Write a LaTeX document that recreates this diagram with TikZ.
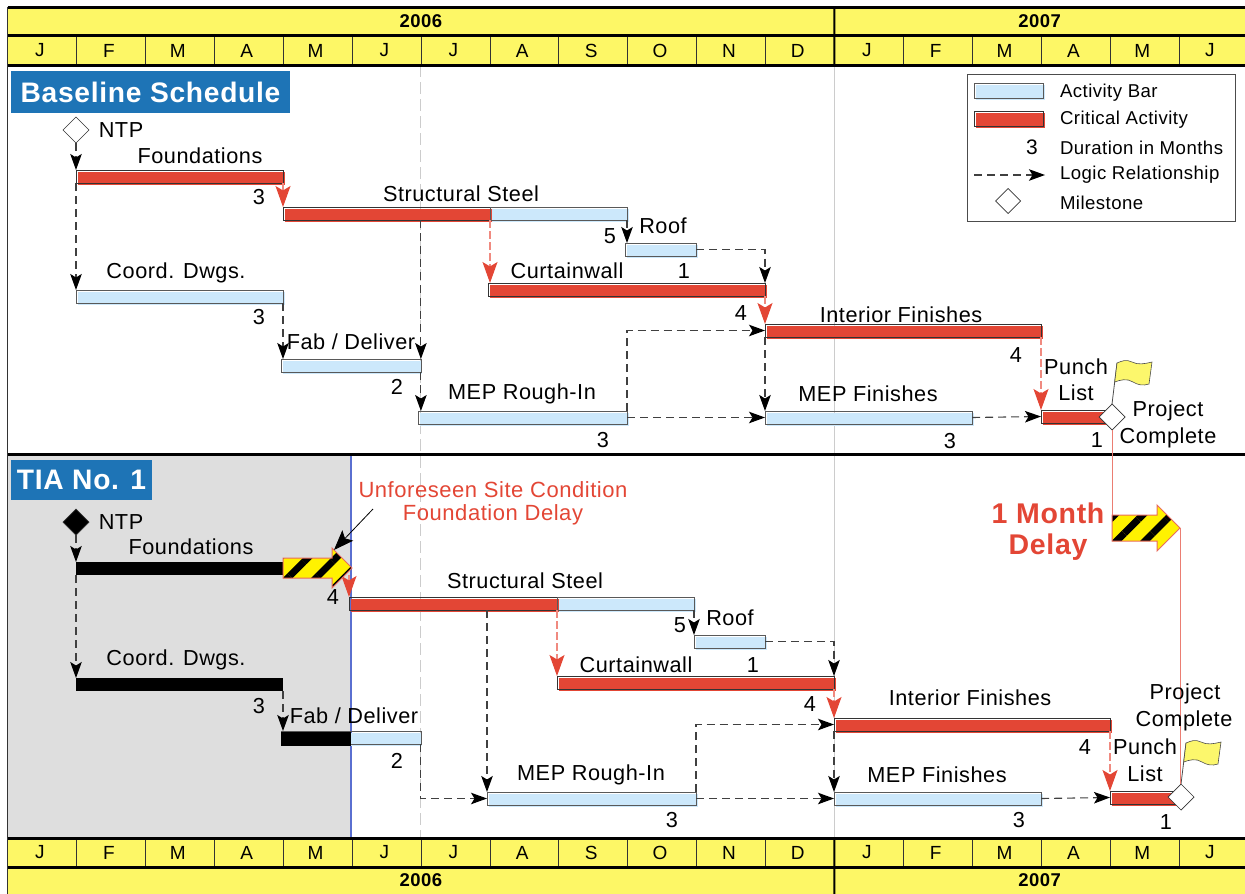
\documentclass[tikz,border=0pt]{standalone}
\usepackage{fontspec}
\setmainfont{Liberation Sans}[LetterSpace=2.5]
\usetikzlibrary{arrows.meta,positioning,shapes.geometric,shapes.arrows,shadows,patterns.meta}
\definecolor{hdryel}{HTML}{FDF766}
\definecolor{barblue}{HTML}{CCE8FB}
\definecolor{critred}{HTML}{E34635}
\definecolor{critpink}{HTML}{F08A80}
\definecolor{ttlblue}{HTML}{1E74B6}
\definecolor{tiagray}{HTML}{DEDEDE}
\definecolor{flagyel}{HTML}{FCF76C}
\definecolor{tialine}{HTML}{5A6FD0}

\begin{document}
\begin{tikzpicture}[x=1pt, y=-1pt, node distance=0pt, every node/.style={font=\fontsize{21.7}{24}\selectfont, inner sep=0pt, outer sep=0pt},
			yr/.style={fill=hdryel, minimum height=28pt, font=\fontsize{18.5}{21}\selectfont\bfseries},
			mon/.style={fill=hdryel, draw=black!80, line width=.6pt, minimum width=68.9pt, minimum height=29pt, font=\fontsize{19}{21}\selectfont, execute at begin node=\hspace*{-4pt}},
			heavy/.style={line width=3pt},
			bar/.style={minimum height=13pt, anchor=north west},
			off/.style={general shadow={fill=#1, shadow xshift=1.5pt, shadow yshift=-1.5pt}},
			actbar/.style={bar, draw=black!65, line width=.7pt, off=barblue},
			critbar/.style={bar, draw=black!80, line width=.7pt, off=critred},
			blkbar/.style={bar, fill=black},
			dep/.style={draw=black!75, line width=1.1pt, dash pattern=on 8pt off 5pt, -{Stealth[length=16pt, width=11.5pt, inset=3.5pt, color=black]}},
			crit/.style={draw=critpink, line width=1.1pt, dash pattern=on 8pt off 3pt, -{Stealth[length=21pt, width=15pt, inset=4.5pt, color=critred]}},
			ms/.style={diamond, draw=black!80, line width=.7pt, fill=white, minimum width=26pt, minimum height=26pt},
			ttl/.style={fill=ttlblue, text=white, font=\fontsize{28.2}{30}\selectfont\bfseries, anchor=north west},
			leg/.style={anchor=west, font=\fontsize{18.6}{21}\selectfont},
			redtxt/.style={text=critred, font=\fontsize{22}{24}\selectfont},
			bigred/.style={text=critred, font=\fontsize{28.5}{31}\selectfont\bfseries},
			hazard/.style={single arrow, single arrow head extend=10pt, minimum height=68pt, minimum width=39pt, inner ysep=9.5pt, anchor=tail,
				draw=critred!80, line width=1pt, preaction={fill=yellow}, pattern={Lines[angle=45, distance=20pt, line width=7pt]}, pattern color=black},
			flagpic/.pic={
				\draw[black!70, line width=.8pt] (0,0) -- (5,-41);
				\draw[black!70, fill=flagyel, line width=.6pt] (5,-41) .. controls (10,-43) and (14,-45) .. (20,-42) .. controls (26,-39) and (32,-40) .. (40,-42)
					-- (37,-20) .. controls (31,-18) and (26,-19) .. (21,-22) .. controls (15,-26) and (8,-24) .. (2.7,-22) -- cycle;
			}]
			\useasboundingbox (0,0) rectangle (1245,894);

			\node[fill=tiagray, minimum width=343pt, minimum height=383pt, anchor=north west] (tia) at (8,454) {};

			\node[yr, minimum width=826.8pt, anchor=north west] (y1) at (7.5,7) {2006};
			\node[yr, minimum width=410.7pt, right=of y1] (y2) {2007};
			\node[mon, anchor=north west] (m1) at (7.5,36) {J};
			\node[mon, right=of m1] (m2) {F};
			\node[mon, right=of m2] (m3) {M};
			\node[mon, right=of m3] (m4) {A};
			\node[mon, right=of m4] (m5) {M};
			\node[mon, right=of m5] (m6) {J};
			\node[mon, right=of m6] (m7) {J};
			\node[mon, right=of m7] (m8) {A};
			\node[mon, right=of m8] (m9) {S};
			\node[mon, right=of m9] (m10) {O};
			\node[mon, right=of m10] (m11) {N};
			\node[mon, right=of m11] (m12) {D};
			\node[mon, right=of m12] (m13) {J};
			\node[mon, right=of m13] (m14) {F};
			\node[mon, right=of m14] (m15) {M};
			\node[mon, right=of m15] (m16) {A};
			\node[mon, right=of m16] (m17) {M};
			\node[mon, right=of m17, minimum width=66.2pt] (m18) {J};

			\node[mon, anchor=north west] (b1) at (7.5,838) {J};
			\node[mon, right=of b1] (b2) {F};
			\node[mon, right=of b2] (b3) {M};
			\node[mon, right=of b3] (b4) {A};
			\node[mon, right=of b4] (b5) {M};
			\node[mon, right=of b5] (b6) {J};
			\node[mon, right=of b6] (b7) {J};
			\node[mon, right=of b7] (b8) {A};
			\node[mon, right=of b8] (b9) {S};
			\node[mon, right=of b9] (b10) {O};
			\node[mon, right=of b10] (b11) {N};
			\node[mon, right=of b11] (b12) {D};
			\node[mon, right=of b12] (b13) {J};
			\node[mon, right=of b13] (b14) {F};
			\node[mon, right=of b14] (b15) {M};
			\node[mon, right=of b15] (b16) {A};
			\node[mon, right=of b16] (b17) {M};
			\node[mon, right=of b17, minimum width=66.2pt] (b18) {J};
			\node[yr, minimum width=826.8pt, minimum height=27pt, anchor=north west] (z1) at (7.5,867) {2006};
			\node[yr, minimum width=410.7pt, minimum height=27pt, right=of z1] (z2) {2007};

			\draw[black!20, line width=1pt, dash pattern=on 12pt off 5pt] (m7.south west) -- (b7.north west);
			\draw[black!20, line width=1pt] (m13.south west) -- (b13.north west);
			\draw[tialine, line width=1.2pt] (tia.north east) -- (tia.south east);
			\draw[black!80, line width=.8pt] (y1.north west) -- (z1.south west);
			\draw[heavy] (y1.north west) -- (y2.north east);
			\draw[heavy] (y1.south west) -- (y2.south east);
			\draw[heavy] (m1.south west) -- (m18.south east);
			\draw[heavy] (tia.north west) -- (tia.north west -| y2.east);
			\draw[heavy] (b1.north west) -- (b18.north east);
			\draw[heavy] (b1.south west) -- (b18.south east);
			\draw[line width=2pt] (y1.north east) -- (m13.south west);
			\draw[line width=2pt] (b13.north west) -- (z1.south east);

			\node[ttl, minimum width=279pt, minimum height=42pt] (t1) at (11,71) {Baseline Schedule};
			\node[ttl, minimum width=141pt, minimum height=40pt] (t2) at (11,460) {TIA No. 1};

			\node[draw=black!70, line width=.8pt, minimum width=268pt, minimum height=147pt, anchor=north west] (lg) at (967,74) {};
			\node[actbar, minimum width=69pt, minimum height=15pt] (lg1) at (974,83) {};
			\node[critbar, minimum width=69pt, minimum height=15pt] (lg2) at (974,111) {};
			\node[leg] (lt1) at (1060,92.5) {Activity Bar};
			\node[leg] (lt2) at (1060,119.5) {Critical Activity};
			\node[leg] (lt3) at (1060,147.5) {Duration in Months};
			\node[leg] (lt4) at (1060,174.5) {Logic Relationship};
			\node[leg] (lt5) at (1060,203) {Milestone};
			\node[leg, anchor=center, font=\fontsize{21}{23}\selectfont] (lg3) at (1032,147) {3};
			\coordinate (lg4a) at (974,175);
			\coordinate (lg4b) at (1045,175);
			\draw[dep] (lg4a) -- (lg4b);
			\node[ms, minimum width=25pt, minimum height=25pt] (lg5) at (1008,201) {};

			\node[critbar, minimum width=207pt] (found) at (76,170) {};
			\node[critbar, minimum width=207pt] (steelc) at (283,207) {};
			\node[actbar, minimum width=137pt] (steelb) at (490,207) {};
			\node[actbar, minimum width=71pt] (roof) at (625,243) {};
			\node[critbar, minimum width=277pt] (curt) at (488,283) {};
			\node[critbar, minimum width=276pt] (inter) at (765,324) {};
			\node[actbar, minimum width=207pt] (coord) at (76,290) {};
			\node[actbar, minimum width=139.9pt] (fab) at (281,359) {};
			\node[actbar, minimum width=209pt] (mep) at (418,411) {};
			\node[actbar, minimum width=207pt] (mepf) at (765,411) {};
			\node[critbar, minimum width=69pt] (punch) at (1041,410) {};
			\node[ms] (ntp) at (76,130) {};
			\node[ms] (done) at (1112,417) {};

			\draw[dep] (ntp.south) -- (ntp.south |- found.north);
			\draw[dep] (found.south west) -- (coord.north west);
			\draw[dep] (coord.south east) -- (coord.south east |- fab.north);
			\draw[dep] (m7.south west |- steelc.south) -- (m7.south west |- fab.north);
			\draw[dep] (fab.south east) -- (fab.south east |- mep.north);
			\draw[dep] (steelb.south east) -- (steelb.south east |- roof.north);
			\draw[dep] (roof.east) -| (curt.north east);
			\draw[dep] (inter.south west) -- (mepf.north west);
			\draw[dep] (mep.north east) |- (inter.west);
			\draw[dep] (mep.east) -- (mepf.west);
			\draw[dep] (mepf.east) -- (punch.west);
			\draw[crit] (found.south east) -- (found.south east |- steelc.north);
			\draw[crit] (steelc.south east) -- (steelc.south east |- curt.north);
			\draw[crit] (curt.south east) -- (curt.south east |- inter.north);
			\draw[crit] (inter.south east) -- (punch.north west);
			\path (done.north) pic {flagpic};

			\node[fill=white, anchor=south, text depth=7pt] (l1) at (200,170) {Foundations};
			\node (l2) at (461,194) {Structural Steel};
			\node (l3) at (663,226) {Roof};
			\node (l4) at (567,271) {Curtainwall};
			\node (l5) at (901,315) {Interior Finishes};
			\node (l6) at (176,273) {Coord. Dwgs.};
			\node (l7) at (351,342) {Fab / Deliver};
			\node (l8) at (522,394) {MEP Rough-In};
			\node (l9) at (868,394) {MEP Finishes};
			\node (l10) at (1076,367) {Punch};
			\node (l11) at (1076,393) {List};
			\node (l12) at (121,130) {NTP};
			\node (l13) at (1168,411) {Project};
			\node (l14) at (1168,438) {Complete};
			\node (n1) at (259,197) {3};
			\node (n2) at (610,236) {5};
			\node (n3) at (684,271) {1};
			\node (n4) at (741,313) {4};
			\node (n5) at (1016,355) {4};
			\node (n6) at (259,317) {3};
			\node (n7) at (397,387) {2};
			\node (n8) at (603,440) {3};
			\node (n9) at (950,441) {3};
			\node (n10) at (1097,440) {1};

			\draw[critred!70, line width=1pt] (done.south) -- (done.south |- 0,528);
			\node[hazard] (haz1) at (1112,528) {};
			\node[bigred] (d1) at (1048,513) {1 Month};
			\node[bigred] (d2) at (1048,547) {Delay};

			\node[blkbar, minimum width=207pt] (foundb) at (76,562) {};
			\node[critbar, minimum width=208pt] (steelcb) at (349,597) {};
			\node[actbar, minimum width=137pt] (steelbb) at (557,597) {};
			\node[actbar, minimum width=71pt] (roofb) at (694,635) {};
			\node[critbar, minimum width=277pt] (curtb) at (557,676) {};
			\node[critbar, minimum width=276pt] (interb) at (834,718) {};
			\node[blkbar, minimum width=207pt] (coordb) at (76,678) {};
			\node[actbar, minimum width=139.9pt] (fabb) at (281,731) {};
			\node[blkbar, minimum width=70pt, minimum height=14pt] (fabk) at (281,731.5) {};
			\node[actbar, minimum width=209pt] (mepb) at (487,792) {};
			\node[actbar, minimum width=207pt] (mepfb) at (834,792) {};
			\node[critbar, minimum width=70pt] (punchb) at (1110,791) {};
			\node[ms, fill=black] (ntpb) at (76,522) {};
			\node[ms] (doneb) at (1181,797) {};

			\draw[dep] (ntpb.south) -- (ntpb.south |- foundb.north);
			\draw[dep] (foundb.south west) -- (coordb.north west);
			\draw[dep] (coordb.south east) -- (coordb.south east |- fabb.north);
			\draw[dep] (mepb.north west |- steelcb.south) -- (mepb.north west);
			\draw[dep] (steelbb.south east) -- (steelbb.south east |- roofb.north);
			\draw[dep] (roofb.east) -| (curtb.north east);
			\draw[dep] (fabb.south east) |- (mepb.west);
			\draw[dep] (interb.south west) -- (mepfb.north west);
			\draw[dep] (mepb.north east) |- (interb.west);
			\draw[dep] (mepb.east) -- (mepfb.west);
			\draw[dep] (mepfb.east) -- (punchb.west);
			\draw[crit] (steelcb.north west |- foundb.south) -- (steelcb.north west);
			\draw[crit] (steelcb.south east) -- (steelcb.south east |- curtb.north);
			\draw[crit] (curtb.south east) -- (curtb.south east |- interb.north);
			\draw[crit] (interb.south east) -- (interb.south east |- punchb.north);
			\path (doneb.north) pic {flagpic};

			\node[hazard, minimum height=69pt] (haz2) at (283,568) {};
			\draw[critred!70, line width=1pt] (haz1.tip) -- (haz1.tip |- doneb.north);
			\coordinate (cal) at (373,509);
			\draw[black, line width=.8pt, -{Stealth[length=20pt, width=15pt, inset=4pt]}] (cal) -- (haz2.40);

			\node (k1) at (191,547) {Foundations};
			\node (k2) at (525,581) {Structural Steel};
			\node (k3) at (730,618) {Roof};
			\node (k4) at (636,665) {Curtainwall};
			\node (k5) at (970,698) {Interior Finishes};
			\node (k6) at (176,660) {Coord. Dwgs.};
			\node (k7) at (354,716) {Fab / Deliver};
			\node (k8) at (591,775) {MEP Rough-In};
			\node (k9) at (937,775) {MEP Finishes};
			\node (k10) at (1145,747) {Punch};
			\node (k11) at (1145,774) {List};
			\node (k12) at (121,522) {NTP};
			\node (k13) at (1185,694) {Project};
			\node (k14) at (1184,721) {Complete};
			\node (c1) at (333,597) {4};
			\node (c2) at (680,625) {5};
			\node (c3) at (753,665) {1};
			\node (c4) at (810,704) {4};
			\node (c5) at (1085,747) {4};
			\node (c6) at (259,706) {3};
			\node (c7) at (397,761) {2};
			\node (c8) at (672,820) {3};
			\node (c9) at (1019,820) {3};
			\node (c10) at (1166,822) {1};
			\node[redtxt] (r1) at (493,490) {Unforeseen Site Condition};
			\node[redtxt] (r2) at (493,515) {Foundation Delay};
		\end{tikzpicture}
\end{document}
